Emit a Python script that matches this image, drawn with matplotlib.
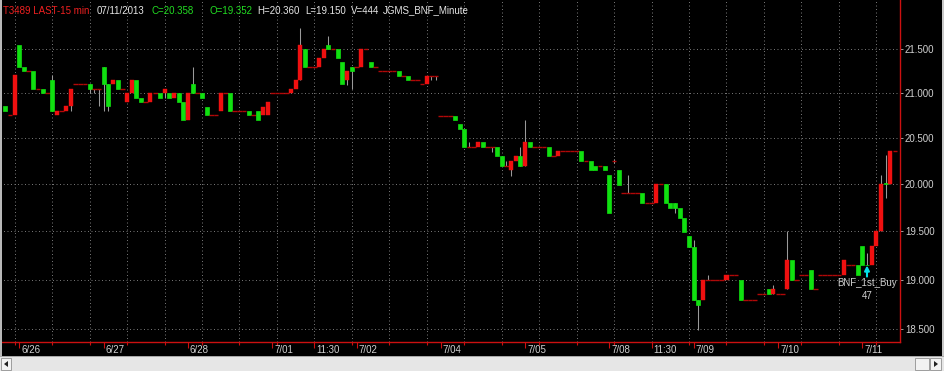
import matplotlib
matplotlib.use('Agg')
import matplotlib.pyplot as plt
from matplotlib.ticker import FixedLocator, NullLocator, FuncFormatter
from matplotlib.transforms import ScaledTranslation
from matplotlib.patches import Rectangle, Polygon

plt.rcParams['font.family'] = ['Liberation Sans', 'DejaVu Sans']

# ---------------- data (15-minute bars) ----------------
opens = [
    20.86, 20.75, 20.75, 21.55, 21.30, 21.25, 21.25, 21.05, 21.05, 21.00,   # 0-9
    21.15, 20.75, 20.80, 20.80, 20.86, 21.10, 21.10, 21.10, 21.10, 21.05,   # 10-19
    21.05, 21.30, 21.10, 21.10, 21.15, 21.05, 20.90, 21.00, 21.15, 20.95,   # 20-29
    20.90, 20.90, 21.00, 21.00, 21.00, 21.00, 20.95, 21.00, 20.90, 20.70,   # 30-39
    21.10, 21.00, 21.00, 20.85, 20.75, 20.75, 20.80, 21.00, 21.00, 20.80,   # 40-49
    20.80, 20.80, 20.80, 20.75, 20.80, 20.75, 20.75, 21.00, 21.00, 21.00,   # 50-59
    21.00, 21.00, 21.05, 21.15, 21.50, 21.30, 21.30, 21.30, 21.40, 21.55,   # 60-69
    21.50, 21.50, 21.35, 21.15, 21.30, 21.30, 21.30, 21.50, 21.35, 21.30,   # 70-79
    21.25, 21.25, 21.25, 21.25, 21.25, 21.20, 21.20, 21.15, 21.15, 21.10,   # 80-89
    21.10, 21.20, 21.20, 20.74, 20.74, 20.74, 20.74, 20.655, 20.60, 20.40,  # 90-99
    20.40, 20.40, 20.455, 20.40, 20.40, 20.40, 20.30, 20.20, 20.15, 20.25,  # 100-109
    20.30, 20.20, 20.455, 20.40, 20.40, 20.40, 20.40, 20.30, 20.30, 20.355, # 110-119
    20.355, 20.355, 20.355, 20.355, 20.25, 20.25, 20.20, 20.20, 20.20, 20.10,  # 120-129
    20.25, 20.15, 19.90, 19.90, 19.90, 19.90, 19.90, 19.80, 19.80, 19.80,   # 130-139
    20.00, 20.00, 19.80, 19.80, 19.745, 19.64, 19.45, 19.34, 18.79, 18.79,  # 140-149
    19.00, 19.00, 19.00, 19.00, 19.00, 19.045, 19.045, 19.00, 18.79, 18.79, # 150-159
    18.79, 18.85, 18.85, 18.90, 18.85, 18.85, 18.85, 18.90, 19.20, 19.00,   # 160-169
    19.045, 19.045, 19.095, 18.90, 19.045, 19.045, 19.045, 19.045, 19.045, 19.045,  # 170-179
    19.145, 19.145, 19.145, 19.35, 19.152, 19.145, 19.35, 19.50, 20.006, 20.00,     # 180-189
    20.36,                                                                  # 190
]
closes = [
    20.80, 20.75, 21.21, 21.30, 21.25, 21.25, 21.05, 21.05, 21.00, 21.00,
    20.80, 20.80, 20.80, 20.86, 21.05, 21.10, 21.10, 21.10, 21.05, 21.05,
    21.05, 21.10, 20.86, 21.15, 21.05, 21.05, 21.00, 21.15, 20.95, 20.90,
    20.90, 21.00, 21.00, 20.95, 21.05, 20.95, 21.00, 20.90, 20.70, 21.00,
    21.00, 21.00, 20.95, 20.75, 20.75, 20.75, 21.00, 21.00, 20.80, 20.80,
    20.80, 20.80, 20.75, 20.75, 20.70, 20.85, 20.90, 21.00, 21.00, 21.00,
    21.00, 21.05, 21.15, 21.55, 21.30, 21.30, 21.30, 21.40, 21.50, 21.50,
    21.50, 21.40, 21.10, 21.25, 21.25, 21.30, 21.50, 21.50, 21.30, 21.30,
    21.25, 21.25, 21.25, 21.25, 21.20, 21.20, 21.15, 21.15, 21.15, 21.10,
    21.20, 21.20, 21.20, 20.74, 20.74, 20.74, 20.70, 20.60, 20.40, 20.40,
    20.40, 20.455, 20.40, 20.40, 20.40, 20.30, 20.20, 20.20, 20.25, 20.30,
    20.20, 20.455, 20.40, 20.40, 20.40, 20.40, 20.30, 20.30, 20.355, 20.355,
    20.355, 20.355, 20.355, 20.25, 20.25, 20.15, 20.15, 20.20, 20.15, 19.69,
    20.25, 19.99, 19.90, 19.90, 19.90, 19.90, 19.80, 19.80, 19.80, 20.00,
    20.00, 19.80, 19.745, 19.745, 19.64, 19.49, 19.34, 18.79, 18.74, 19.00,
    19.00, 19.00, 19.00, 19.00, 19.045, 19.045, 19.045, 18.79, 18.79, 18.79,
    18.79, 18.85, 18.85, 18.85, 18.90, 18.85, 18.85, 19.20, 19.00, 19.00,
    19.045, 19.045, 18.90, 18.90, 19.045, 19.045, 19.045, 19.045, 19.045, 19.20,
    19.145, 19.145, 19.045, 19.145, 19.145, 19.35, 19.50, 20.00, 20.00, 20.36,
    20.36,
]
wick_high = {10: 21.21, 40: 21.30, 63: 21.75, 69: 21.65, 99: 20.455, 107: 20.25,
             110: 20.40, 111: 20.70, 130: 20.27, 133: 20.10, 147: 19.41, 150: 19.045,
             164: 18.94, 167: 19.50, 184: 19.27, 187: 20.10, 188: 20.31}
wick_low = {14: 20.80, 18: 21.00, 19: 21.00, 20: 20.86, 21: 20.80, 22: 20.80,
            34: 20.95, 73: 21.09, 74: 21.05, 91: 21.15, 92: 21.15, 104: 20.35,
            108: 20.09, 130: 20.23, 143: 19.69, 148: 18.49, 188: 19.85}

x_labels = ['6/26', '6/27', '6/28', '7/01', '11:30', '7/02', '7/04', '7/05',
            '7/08', '11:30', '7/09', '7/10', '7/11']
x_label_bars = [3, 21, 39, 57, 66, 75, 93, 111, 129, 138, 147, 165, 183]
price_levels = [18.5, 19.0, 19.5, 20.0, 20.5, 21.0, 21.5]
signal_bar = 184
signal_text = 'BNF_1st_Buy'
signal_qty = '47'
header_parts = [('T3489 LAST-15 min', '#ee2020', 3), ('07/11/2013', '#e6e6e6', 97),
                ('C=20.358', '#22dd22', 151), ('O=19.352', '#22dd22', 209),
                ('H=20.360', '#e6e6e6', 257), ('L=19.150', '#e6e6e6', 305),
                ('V=444', '#e6e6e6', 351), ('JGMS_BNF_Minute', '#e6e6e6', 383)]

# ---------------- style ----------------
RED = '#f01010'
GREEN = '#10e010'
DOJI = '#b00808'
WICK = '#9a9a9a'
GRID = '#7a7a7a'
TXT = '#d0d0d0'
W, H = 944, 371
DPI = 100

fig = plt.figure(figsize=(W / DPI, H / DPI), dpi=DPI, facecolor='black')
ax = fig.add_axes([0, 29 / H, 900 / W, 342 / H])
ax.set_facecolor('black')
ax.set_yscale('log')
ax.set_ylim(18.374, 22.077)
ax.set_xlim(-1.132, 191.05)

# grid
for p in price_levels:
    ax.axhline(p, color=GRID, lw=0.7, ls=(0, (1, 2.6)), zorder=1)
grid_bars = list(range(2, len(opens), 8))
for g in grid_bars:
    ax.axvline(g, color=GRID, lw=0.7, ls=(0, (1, 2.6)), zorder=1)

# candles
for i, (o, c) in enumerate(zip(opens, closes)):
    hi = wick_high.get(i, max(o, c))
    lo = wick_low.get(i, min(o, c))
    if hi > max(o, c) or lo < min(o, c):
        ax.vlines(i, lo, hi, color=WICK, lw=0.75, zorder=2)
    if c > o:
        ax.bar(i, c - o, bottom=o, width=0.86, color=RED, edgecolor=RED, lw=0.3, zorder=3)
    elif c < o:
        ax.bar(i, o - c, bottom=c, width=0.86, color=GREEN, edgecolor=GREEN, lw=0.5, zorder=3)
    else:
        ax.hlines(o, i - 0.5, i + 0.5, color=DOJI, lw=1.0, zorder=3)

# spines
for s in ['top', 'left']:
    ax.spines[s].set_visible(False)
for s in ['bottom', 'right']:
    ax.spines[s].set_color('#cc1010')
    ax.spines[s].set_linewidth(1.0)

# y axis on right
ax.yaxis.tick_right()
ax.yaxis.set_major_locator(FixedLocator(price_levels))
ax.yaxis.set_minor_locator(NullLocator())
ax.yaxis.set_major_formatter(FuncFormatter(lambda v, p: '%.3f' % v))
ax.tick_params(axis='y', which='major', color='#a0a0a0', length=2.5, width=0.7,
               labelcolor=TXT, labelsize=7, pad=1)

# x axis ticks
ax.xaxis.set_major_locator(FixedLocator(x_label_bars))
ax.xaxis.set_minor_locator(FixedLocator(grid_bars))
ax.tick_params(axis='x', which='major', color='#cc1010', length=4, width=0.8,
               labelbottom=False)
ax.tick_params(axis='x', which='minor', color='#cc1010', length=2, width=0.8)
lab_tr = ax.get_xaxis_transform() + ScaledTranslation(2 / DPI, -3 / DPI, fig.dpi_scale_trans)
for k, s in zip(x_label_bars, x_labels):
    ax.text(k, 0, s, transform=lab_tr, ha='left', va='top', color=TXT, fontsize=7)

# signal annotation
ax.annotate('', xy=(signal_bar, closes[signal_bar]), xycoords='data',
            xytext=(0, -8), textcoords='offset points',
            arrowprops=dict(arrowstyle='-|>', color='#00e0e8', lw=1.5,
                            mutation_scale=7, shrinkA=0, shrinkB=0))
ax.annotate(signal_text, xy=(signal_bar, closes[signal_bar]), xytext=(0, -12.6),
            textcoords='offset points', ha='center', va='center', color=TXT, fontsize=7)
ax.annotate(signal_qty, xy=(signal_bar, closes[signal_bar]), xytext=(0, -21.7),
            textcoords='offset points', ha='center', va='center', color=TXT, fontsize=7)

# header
for s, col, xp in header_parts:
    fig.text(xp / W, 1 - 10.5 / H, s, ha='left', va='center', color=col, fontsize=7)


# frame / scrollbar decorations (figure pixel coordinates, y from top)
def frect(x0, y0, x1, y1, **kw):
    fig.patches.append(Rectangle((x0 / W, 1 - y1 / H), (x1 - x0) / W, (y1 - y0) / H,
                                 transform=fig.transFigure, **kw))


def ftri(pts, **kw):
    fig.patches.append(Polygon([(x / W, 1 - y / H) for x, y in pts], closed=True,
                               transform=fig.transFigure, **kw))


frect(0, 356, W, H, facecolor='#e6e6e6', edgecolor='none')
frect(0, 356, W, 357, facecolor='#a8a8a8', edgecolor='none')
frect(1, 358, 11, 370, facecolor='#f2f2f2', edgecolor='#909090', lw=0.6)
ftri([(8, 361), (8, 367), (4, 364)], facecolor='#202020', edgecolor='none')
frect(915, 358, 929, 370, facecolor='#f2f2f2', edgecolor='#909090', lw=0.6)
frect(930, 358, 941, 370, facecolor='#f2f2f2', edgecolor='#909090', lw=0.6)
ftri([(934, 361), (934, 367), (938, 364)], facecolor='#202020', edgecolor='none')
frect(0, 0, 2, 356, facecolor='#b8b8b8', edgecolor='none')
frect(942, 0, W, 356, facecolor='#c8c8c8', edgecolor='none')

fig.savefig('out.png', dpi=DPI, facecolor='black')
